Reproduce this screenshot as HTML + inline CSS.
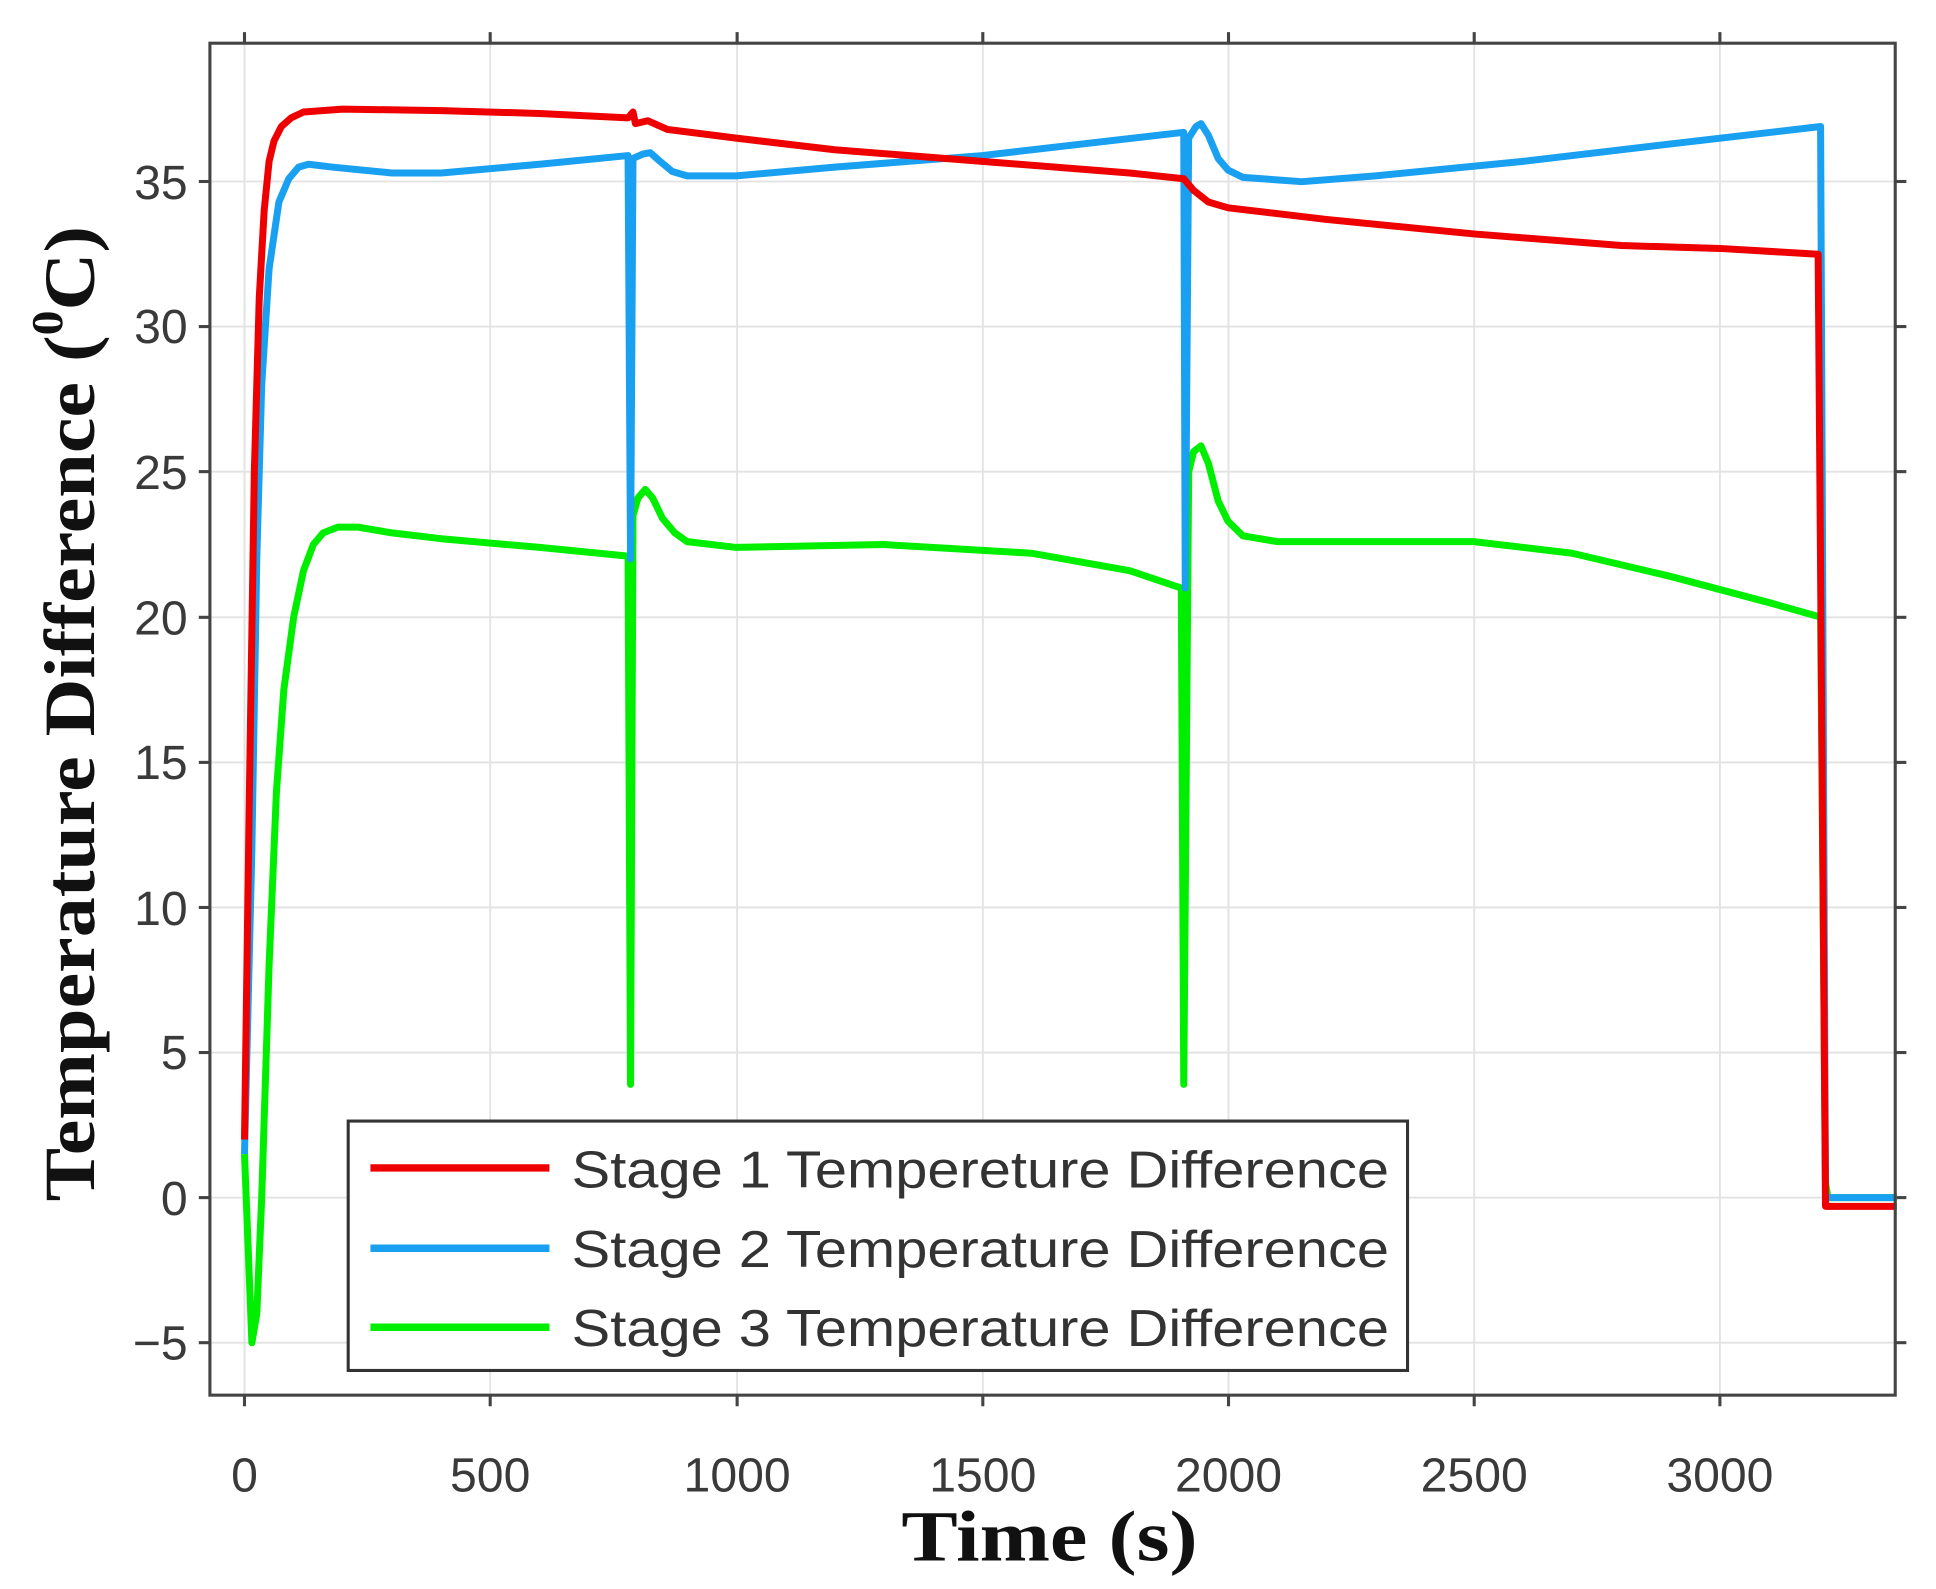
<!DOCTYPE html>
<html><head><meta charset="utf-8"><style>html,body{margin:0;padding:0;background:#fff}svg{display:block}</style></head>
<body>
<svg width="1936" height="1589" viewBox="0 0 1568 1287" xmlns="http://www.w3.org/2000/svg">
<rect width="1568" height="1287" fill="#fff"/>
<g stroke="#e2e2e2" stroke-width="1.5">
<line x1="198" y1="35" x2="198" y2="1130"/><line x1="397" y1="35" x2="397" y2="1130"/><line x1="597" y1="35" x2="597" y2="1130"/><line x1="796" y1="35" x2="796" y2="1130"/><line x1="995" y1="35" x2="995" y2="1130"/><line x1="1194" y1="35" x2="1194" y2="1130"/><line x1="1393" y1="35" x2="1393" y2="1130"/>
<line x1="170" y1="147" x2="1535" y2="147"/><line x1="170" y1="264.5" x2="1535" y2="264.5"/><line x1="170" y1="382" x2="1535" y2="382"/><line x1="170" y1="500" x2="1535" y2="500"/><line x1="170" y1="617.5" x2="1535" y2="617.5"/><line x1="170" y1="735" x2="1535" y2="735"/><line x1="170" y1="852.5" x2="1535" y2="852.5"/><line x1="170" y1="970" x2="1535" y2="970"/><line x1="170" y1="1087.5" x2="1535" y2="1087.5"/>
</g>
<g stroke="#444" stroke-width="2.5">
<line x1="198" y1="26" x2="198" y2="35"/><line x1="397" y1="26" x2="397" y2="35"/><line x1="597" y1="26" x2="597" y2="35"/><line x1="796" y1="26" x2="796" y2="35"/><line x1="995" y1="26" x2="995" y2="35"/><line x1="1194" y1="26" x2="1194" y2="35"/><line x1="1393" y1="26" x2="1393" y2="35"/>
<line x1="198" y1="1130" x2="198" y2="1139"/><line x1="397" y1="1130" x2="397" y2="1139"/><line x1="597" y1="1130" x2="597" y2="1139"/><line x1="796" y1="1130" x2="796" y2="1139"/><line x1="995" y1="1130" x2="995" y2="1139"/><line x1="1194" y1="1130" x2="1194" y2="1139"/><line x1="1393" y1="1130" x2="1393" y2="1139"/>
<line x1="161" y1="147" x2="170" y2="147"/><line x1="161" y1="264.5" x2="170" y2="264.5"/><line x1="161" y1="382" x2="170" y2="382"/><line x1="161" y1="500" x2="170" y2="500"/><line x1="161" y1="617.5" x2="170" y2="617.5"/><line x1="161" y1="735" x2="170" y2="735"/><line x1="161" y1="852.5" x2="170" y2="852.5"/><line x1="161" y1="970" x2="170" y2="970"/><line x1="161" y1="1087.5" x2="170" y2="1087.5"/>
<line x1="1535" y1="147" x2="1544" y2="147"/><line x1="1535" y1="264.5" x2="1544" y2="264.5"/><line x1="1535" y1="382" x2="1544" y2="382"/><line x1="1535" y1="500" x2="1544" y2="500"/><line x1="1535" y1="617.5" x2="1544" y2="617.5"/><line x1="1535" y1="735" x2="1544" y2="735"/><line x1="1535" y1="852.5" x2="1544" y2="852.5"/><line x1="1535" y1="970" x2="1544" y2="970"/><line x1="1535" y1="1087.5" x2="1544" y2="1087.5"/>
</g>
<g transform="matrix(0.3983,0,0,-23.51,198,970)" fill="none" stroke-linejoin="round">
<polyline vector-effect="non-scaling-stroke" stroke-width="7" stroke="#00ee00" points="0,1.5 15,-5 25,-4 35,0 50,8 65,14 80,17.5 100,20 120,21.6 140,22.5 160,22.9 190,23.1 230,23.1 300,22.9 400,22.7 600,22.4 780,22.1 785,3.9 790,23.5 800,24.1 815,24.4 830,24.1 850,23.4 875,22.9 900,22.6 1000,22.4 1300,22.5 1600,22.2 1800,21.6 1905,21 1910,3.9 1920,25 1930,25.7 1945,25.9 1960,25.3 1980,24 2000,23.3 2030,22.8 2100,22.6 2500,22.6 2700,22.2 2900,21.4 3100,20.5 3205,20 3215,0.5 3220,0 3360,0"/>
<polyline vector-effect="non-scaling-stroke" stroke-width="7" stroke="#1aa0f0" points="0,1.5 15,12 25,22 35,28 50,32 70,34.3 90,35.1 110,35.5 130,35.6 180,35.5 300,35.3 400,35.3 600,35.6 780,35.9 785,22 790,35.8 810,35.95 825,36 845,35.7 870,35.35 900,35.2 1000,35.2 1200,35.5 1500,35.9 1910,36.7 1913,21 1920,36.5 1935,36.9 1945,37 1960,36.6 1980,35.8 2000,35.4 2030,35.15 2150,35 2300,35.2 2600,35.7 2900,36.3 3205,36.9 3215,0 3360,0"/>
<polyline vector-effect="non-scaling-stroke" stroke-width="7" stroke="#ee0000" points="0,2 10,14 20,25 30,31 40,34 50,35.7 60,36.4 75,36.9 95,37.2 120,37.4 200,37.5 400,37.45 600,37.35 780,37.2 790,37.4 795,37 820,37.1 860,36.8 1000,36.5 1200,36.1 1500,35.7 1800,35.3 1910,35.1 1930,34.7 1960,34.3 2000,34.1 2200,33.7 2500,33.2 2800,32.8 3000,32.7 3200,32.5 3215,-0.3 3360,-0.3"/>
</g>
<rect x="170" y="35" width="1365" height="1095" fill="none" stroke="#444" stroke-width="2.5"/>
<rect x="282" y="908" width="858" height="202" fill="#fff" stroke="#333" stroke-width="2.5"/>
<line x1="300" y1="946" x2="445" y2="946" stroke="#ee0000" stroke-width="6"/>
<line x1="300" y1="1011" x2="445" y2="1011" stroke="#1aa0f0" stroke-width="6"/>
<line x1="300" y1="1075" x2="445" y2="1075" stroke="#00ee00" stroke-width="6"/>
<g font-family="Liberation Sans, sans-serif" font-size="42" fill="#333">
<text x="463" y="962" textLength="662" lengthAdjust="spacingAndGlyphs">Stage 1 Tempereture Difference</text>
<text x="463" y="1026" textLength="662" lengthAdjust="spacingAndGlyphs">Stage 2 Temperature Difference</text>
<text x="463" y="1090" textLength="662" lengthAdjust="spacingAndGlyphs">Stage 3 Temperature Difference</text>
</g>
<g font-family="Liberation Sans, sans-serif" font-size="39" fill="#3a3a3a" text-anchor="middle">
<text x="198" y="1208">0</text><text x="397" y="1208">500</text><text x="597" y="1208">1000</text><text x="796" y="1208">1500</text><text x="995" y="1208">2000</text><text x="1194" y="1208">2500</text><text x="1393" y="1208">3000</text>
</g>
<g font-family="Liberation Sans, sans-serif" font-size="39" fill="#3a3a3a" text-anchor="end">
<text x="152" y="161">35</text><text x="152" y="278">30</text><text x="152" y="396">25</text><text x="152" y="514">20</text><text x="152" y="631">15</text><text x="152" y="749">10</text><text x="152" y="866">5</text><text x="152" y="984">0</text><text x="152" y="1101">−5</text>
</g>
<text x="850" y="1264" font-family="Liberation Serif, serif" font-weight="bold" font-size="58" text-anchor="middle" fill="#111" textLength="240" lengthAdjust="spacingAndGlyphs">Time (s)</text>
<text transform="translate(76,578) rotate(-90)" font-family="Liberation Serif, serif" font-weight="bold" font-size="58" text-anchor="middle" fill="#111" textLength="790" lengthAdjust="spacingAndGlyphs">Temperature Difference (<tspan font-size="36" dy="-26">0</tspan><tspan dy="26">C)</tspan></text>
</svg>
</body></html>
